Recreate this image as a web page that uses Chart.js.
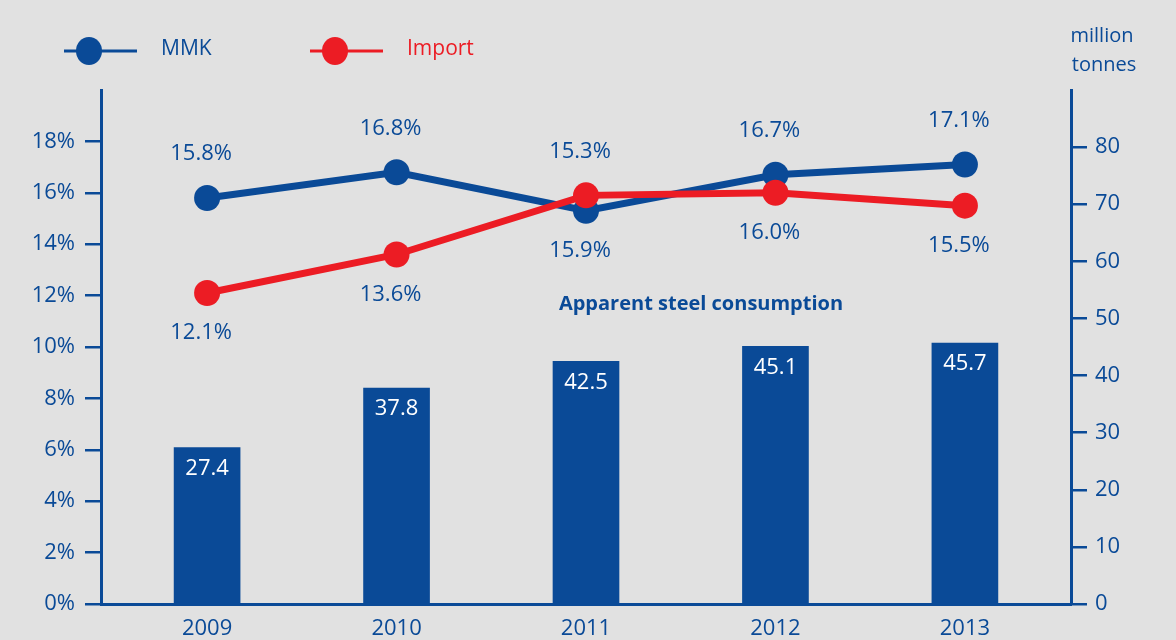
<!DOCTYPE html>
<html>
<head>
<meta charset="utf-8">
<script src="https://cdn.jsdelivr.net/npm/chart.js@4"></script>
<style>
  html, body { margin: 0; padding: 0; background: #e1e1e1; }
  #wrap { width: 1176px; height: 640px; position: relative; }
</style>
</head>
<body>
<div id="wrap"><canvas id="myChart"></canvas></div>
<script>
const years = ['2009', '2010', '2011', '2012', '2013'];
const consumption = [27.4, 37.8, 42.5, 45.1, 45.7];
const mmkShare = [15.8, 16.8, 15.3, 16.7, 17.1];
const importShare = [12.1, 13.6, 15.9, 16.0, 15.5];
const pctTicks = [0, 2, 4, 6, 8, 10, 12, 14, 16, 18];
const tonneTicks = [0, 10, 20, 30, 40, 50, 60, 70, 80];

const BLUE = '#0a4a97';
const RED = '#ec1c24';
const FONT = '"Open Sans", "Noto Sans", sans-serif';

// labels, legend and the right axis title
const extras = {
  id: 'extras',
  afterDatasetsDraw(chart) {
    const ctx = chart.ctx;
    ctx.save();
    ctx.textAlign = 'center';
    ctx.textBaseline = 'middle';

    // bar values inside the bar top
    ctx.fillStyle = '#ffffff';
    ctx.font = '22px ' + FONT;
    chart.getDatasetMeta(0).data.forEach((bar, i) => {
      ctx.fillText(consumption[i].toFixed(1), bar.x, bar.y + 21);
    });

    // line labels: MMK above, import below
    const mmkPts = chart.getDatasetMeta(1).data;
    const impPts = chart.getDatasetMeta(2).data;
    ctx.fillStyle = BLUE;
    ctx.font = '22px ' + FONT;
    years.forEach((y, i) => {
      const top = Math.min(mmkPts[i].y, impPts[i].y);
      const bot = Math.max(mmkPts[i].y, impPts[i].y);
      ctx.fillText(mmkShare[i].toFixed(1) + '%', mmkPts[i].x - 6, top - 44);
      ctx.fillText(importShare[i].toFixed(1) + '%', impPts[i].x - 6, bot + 40);
    });

    ctx.font = 'bold 20px ' + FONT;
    ctx.fillText('Apparent steel consumption', 701, 304);

    // legend
    const items = [
      { x: 64, label: 'MMK', color: BLUE },
      { x: 310, label: 'Import', color: RED }
    ];
    items.forEach(it => {
      ctx.strokeStyle = it.color;
      ctx.lineWidth = 3;
      ctx.beginPath();
      ctx.moveTo(it.x, 51);
      ctx.lineTo(it.x + 73, 51);
      ctx.stroke();
      ctx.fillStyle = it.color;
      ctx.beginPath();
      ctx.ellipse(it.x + 25, 51, 13, 14, 0, 0, Math.PI * 2);
      ctx.fill();
      ctx.textAlign = 'left';
      ctx.font = '21px ' + FONT;
      ctx.fillText(it.label, it.x + 97, 49);
    });

    ctx.fillStyle = BLUE;
    ctx.font = '20px ' + FONT;
    ctx.textAlign = 'center';
    ctx.fillText('million', 1102, 36);
    ctx.fillText('tonnes', 1104, 65);
    ctx.restore();
  }
};

const ctx = document.getElementById('myChart').getContext('2d');
const myChart = new Chart(ctx, {
  type: 'bar',
  data: {
    datasets: [
      {
        type: 'bar',
        data: consumption.map((v, i) => ({ x: i, y: v })),
        backgroundColor: BLUE,
        barThickness: 66,
        yAxisID: 'y1',
        order: 3
      },
      {
        type: 'line',
        data: mmkShare.map((v, i) => ({ x: i, y: v })),
        borderColor: BLUE,
        backgroundColor: BLUE,
        borderWidth: 7,
        pointRadius: 13,
        pointBorderWidth: 0,
        tension: 0,
        yAxisID: 'y',
        order: 2
      },
      {
        type: 'line',
        data: importShare.map((v, i) => ({ x: i, y: v })),
        borderColor: RED,
        backgroundColor: RED,
        borderWidth: 7,
        pointRadius: 13,
        pointBorderWidth: 0,
        tension: 0,
        yAxisID: 'y',
        order: 1
      }
    ]
  },
  options: {
    responsive: true,
    maintainAspectRatio: false,
    animation: false,
    layout: { padding: { top: 90, left: 0, right: 0, bottom: 0 } },
    plugins: { legend: { display: false }, tooltip: { enabled: false } },
    scales: {
      x: {
        type: 'linear',
        offset: false,
        min: -0.56,
        max: 4.56,
        afterBuildTicks: s => { s.ticks = years.map((y, i) => ({ value: i })); },
        afterFit: s => { s.height = 36; },
        grid: { display: false },
        border: { display: true, color: BLUE, width: 3 },
        ticks: {
          color: BLUE,
          padding: 4,
          font: { family: FONT, size: 22 },
          callback: v => years[v]
        }
      },
      y: {
        position: 'left',
        min: 0,
        max: 20,
        afterBuildTicks: s => { s.ticks = pctTicks.map(v => ({ value: v })); },
        afterFit: s => { s.width = 101; },
        grid: { drawOnChartArea: false, color: BLUE, lineWidth: 2.5, tickLength: 16 },
        border: { color: BLUE, width: 3 },
        ticks: {
          color: BLUE,
          padding: 10,
          font: { family: FONT, size: 22 },
          callback: v => v + '%'
        }
      },
      y1: {
        position: 'right',
        min: 0,
        max: 90,
        afterBuildTicks: s => { s.ticks = tonneTicks.map(v => ({ value: v })); },
        afterFit: s => { s.width = 105; },
        grid: { drawOnChartArea: false, color: BLUE, lineWidth: 2.5, tickLength: 16 },
        border: { color: BLUE, width: 3 },
        ticks: {
          color: BLUE,
          padding: 8,
          font: { family: FONT, size: 22 }
        }
      }
    }
  },
  plugins: [extras]
});
</script>
</body>
</html>
